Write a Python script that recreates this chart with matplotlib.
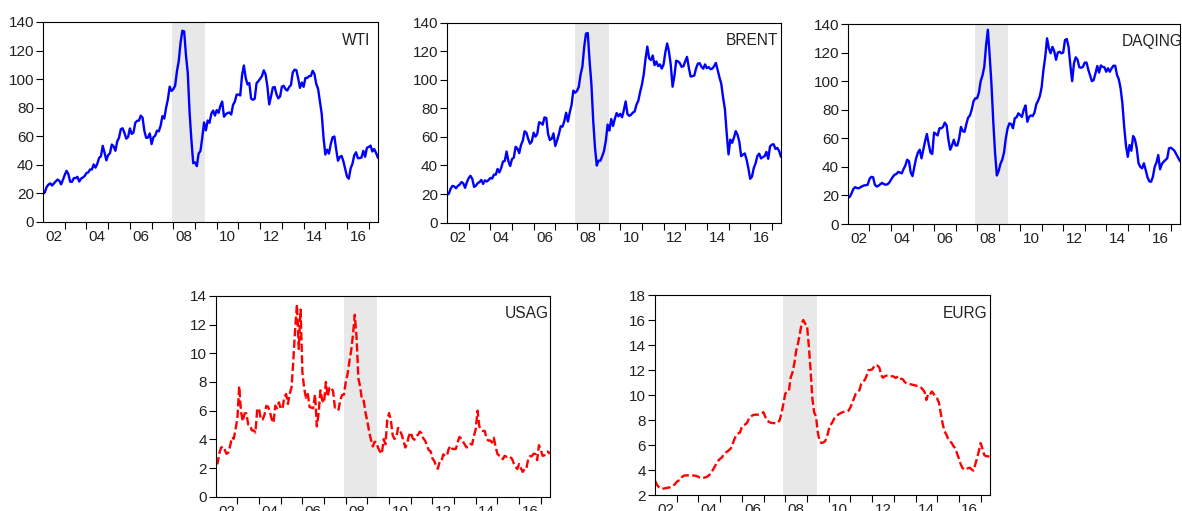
"""Five-panel price chart: crude oil (WTI, Brent, Daqing) and gas (US, Europe), 2002-2017."""

import numpy as np
import matplotlib

matplotlib.use("Agg")
import matplotlib.pyplot as plt  # noqa: E402

plt.rcParams["font.family"] = ["Liberation Sans", "DejaVu Sans"]

# monthly observations, 2002:01 .. 2017:06
start_year = 2002
n_months = 186

wti = [
    19.71, 20.72, 24.53, 26.18, 27.04, 25.52, 26.97, 28.39, 29.66, 28.84, 26.35, 29.46,
    32.95, 35.83, 33.51, 28.17, 28.11, 30.66, 30.76, 31.57, 28.31, 30.34, 31.11, 32.13,
    34.31, 34.69, 36.74, 36.75, 40.28, 38.03, 40.78, 44.90, 45.94, 53.28, 48.47, 43.15,
    46.84, 48.15, 54.19, 52.98, 49.83, 56.35, 59.00, 64.99, 65.59, 62.26, 58.32, 59.41,
    65.49, 61.63, 62.69, 69.44, 70.84, 70.95, 74.41, 73.04, 63.80, 58.89, 59.08, 61.96,
    54.51, 59.28, 60.44, 63.98, 63.45, 67.49, 74.12, 72.36, 79.92, 85.80, 94.77, 91.69,
    92.97, 95.39, 105.45, 112.58, 125.40, 133.88, 133.37, 116.67, 104.11, 76.61, 57.31, 41.12,
    41.71, 39.09, 47.94, 49.65, 59.03, 69.64, 64.15, 71.05, 69.41, 75.72, 77.99, 74.47,
    78.33, 76.39, 81.20, 84.29, 73.74, 75.34, 76.32, 76.60, 75.24, 81.89, 84.25, 89.15,
    89.17, 88.58, 102.86, 109.53, 100.90, 96.26, 97.30, 86.33, 85.52, 86.32, 97.16, 98.56,
    100.27, 102.20, 106.16, 103.32, 94.66, 82.30, 87.90, 94.13, 94.51, 89.49, 86.53, 87.86,
    94.76, 95.31, 92.94, 92.02, 94.51, 95.77, 104.67, 106.57, 106.29, 100.54, 93.86, 97.63,
    94.62, 100.82, 100.80, 102.07, 102.18, 105.79, 103.59, 96.54, 93.21, 84.40, 75.79, 59.29,
    47.22, 50.58, 47.82, 54.45, 59.27, 59.82, 50.90, 42.87, 45.48, 46.22, 42.44, 37.19,
    31.68, 30.32, 37.55, 40.75, 46.71, 48.76, 44.65, 44.72, 45.18, 49.78, 45.66, 51.97,
    52.50, 53.47, 49.33, 51.06, 48.48, 45.18,
]

brent = [
    19.42, 20.28, 23.70, 25.73, 25.35, 24.08, 25.74, 26.65, 28.40, 27.54, 24.34, 28.33,
    31.18, 32.77, 30.61, 25.00, 25.86, 27.65, 28.35, 29.89, 27.11, 29.61, 28.75, 29.81,
    31.28, 30.86, 33.63, 33.59, 37.57, 35.18, 38.22, 42.74, 43.20, 49.78, 43.11, 39.60,
    44.51, 45.48, 53.10, 51.88, 48.65, 54.35, 57.52, 63.98, 62.91, 58.54, 55.24, 56.86,
    62.99, 60.21, 62.06, 70.26, 69.78, 68.56, 73.67, 73.23, 61.96, 57.81, 58.76, 62.47,
    53.68, 57.56, 62.05, 67.49, 67.21, 71.05, 76.93, 70.76, 77.17, 82.34, 92.41, 90.93,
    92.18, 94.99, 103.64, 109.07, 122.80, 132.32, 132.72, 113.24, 97.23, 71.58, 52.45, 39.95,
    43.44, 43.32, 46.54, 50.18, 57.30, 68.61, 64.44, 72.51, 67.65, 72.77, 76.66, 74.46,
    76.17, 73.75, 78.83, 84.82, 75.95, 74.76, 75.58, 77.04, 77.84, 82.67, 85.28, 91.45,
    96.52, 103.72, 114.64, 123.26, 114.99, 113.83, 116.97, 110.22, 112.83, 109.55, 110.77, 107.87,
    110.69, 119.33, 125.45, 119.75, 110.34, 95.16, 102.62, 113.36, 112.86, 111.71, 109.06, 109.49,
    112.96, 116.05, 108.47, 102.25, 102.56, 102.92, 107.93, 111.28, 111.60, 109.08, 107.79, 110.76,
    108.12, 108.90, 107.48, 107.76, 109.54, 111.80, 106.77, 101.61, 97.09, 87.43, 79.44, 62.34,
    47.76, 58.10, 55.89, 59.52, 64.08, 61.48, 56.56, 46.52, 47.62, 48.43, 44.27, 38.01,
    30.70, 32.18, 38.21, 41.58, 46.74, 48.25, 44.95, 45.84, 46.57, 49.52, 44.73, 53.31,
    54.58, 54.87, 51.59, 52.31, 50.33, 46.37,
]

daqing = [
    18.4, 19.0, 21.5, 24.5, 25.8, 25.2, 25.0, 25.8, 26.5, 27.0, 27.2, 27.5,
    31.5, 33.0, 32.8, 27.5, 26.2, 26.8, 27.8, 28.8, 28.0, 27.5, 27.8, 29.0,
    31.0, 33.0, 34.5, 35.0, 36.5, 36.0, 35.5, 38.5, 41.0, 45.0, 44.0, 36.0,
    33.5, 40.0, 46.0, 50.0, 52.0, 46.0, 52.0, 58.0, 63.0, 56.0, 50.0, 49.0,
    64.0, 63.0, 62.0, 67.0, 67.0, 68.0, 71.0, 69.0, 59.0, 52.0, 55.0, 59.0,
    55.0, 55.0, 60.0, 68.0, 65.0, 64.5, 70.0, 74.5, 76.0, 80.0, 86.0, 88.0,
    88.0, 92.0, 100.0, 104.0, 110.0, 125.0, 136.0, 118.0, 98.0, 72.0, 50.0, 34.0,
    37.0, 42.0, 45.0, 50.0, 60.0, 67.0, 70.5, 70.0, 67.0, 74.0, 74.7, 77.5,
    76.3, 75.0, 80.0, 83.0, 71.6, 75.0, 76.0, 75.6, 78.0, 83.8, 86.3, 89.6,
    96.0, 108.0, 117.0, 130.0, 123.0, 119.5, 124.0, 121.0, 115.0, 120.0, 120.6, 119.5,
    120.0, 128.8, 129.5, 124.0, 111.0, 100.0, 112.5, 116.7, 115.0, 109.7, 109.4, 110.0,
    113.0, 113.0, 108.0, 104.0, 100.0, 100.8, 105.5, 110.6, 106.0, 111.0, 110.0, 109.7,
    106.6, 109.0, 106.6, 109.0, 110.8, 110.8, 104.3, 101.3, 95.0, 84.5, 68.0, 55.0,
    47.0, 55.3, 51.3, 61.6, 59.3, 53.0, 42.5, 40.0, 39.0, 42.5, 37.8, 32.7,
    29.9, 29.6, 33.0, 40.0, 43.0, 48.3, 38.3, 42.0, 43.6, 44.8, 46.0, 53.0,
    53.4, 52.5, 51.3, 49.0, 46.7, 44.3,
]

usag = [
    2.32, 2.32, 3.03, 3.43, 3.50, 3.26, 2.99, 3.09, 3.55, 4.13, 4.04, 4.74,
    5.43, 7.71, 5.93, 5.26, 5.81, 5.82, 5.03, 4.99, 4.62, 4.63, 4.47, 6.13,
    6.14, 5.37, 5.39, 5.71, 6.33, 6.27, 5.93, 5.41, 5.15, 6.35, 6.17, 6.58,
    6.15, 6.14, 6.96, 7.16, 6.47, 7.18, 7.63, 9.53, 11.75, 13.42, 10.30, 13.05,
    8.69, 7.54, 6.89, 7.16, 6.25, 6.21, 6.17, 7.14, 4.90, 5.85, 7.41, 6.73,
    6.55, 8.00, 6.97, 7.60, 7.64, 7.35, 6.22, 6.24, 6.07, 6.74, 7.10, 7.11,
    7.99, 8.54, 9.41, 10.18, 11.27, 12.69, 11.09, 8.26, 7.67, 6.74, 6.68, 5.82,
    5.24, 4.52, 3.96, 3.50, 3.83, 3.80, 3.38, 3.14, 2.99, 4.01, 3.66, 5.35,
    5.83, 5.32, 4.29, 4.03, 4.14, 4.80, 4.63, 4.32, 3.89, 3.43, 3.71, 4.25,
    4.49, 4.09, 3.97, 4.24, 4.31, 4.54, 4.42, 4.06, 3.90, 3.57, 3.24, 3.17,
    2.67, 2.50, 2.17, 1.95, 2.43, 2.46, 2.95, 2.84, 2.85, 3.32, 3.54, 3.34,
    3.33, 3.33, 3.81, 4.17, 4.04, 3.83, 3.62, 3.43, 3.62, 3.68, 3.64, 4.24,
    4.71, 6.00, 4.90, 4.66, 4.58, 4.59, 4.05, 3.91, 3.92, 3.78, 4.12, 3.48,
    2.99, 2.87, 2.83, 2.61, 2.85, 2.78, 2.84, 2.77, 2.66, 2.34, 2.09, 1.93,
    2.28, 1.99, 1.73, 1.92, 1.92, 2.59, 2.82, 2.82, 2.99, 2.98, 2.55, 3.59,
    3.30, 2.85, 2.88, 3.10, 3.15, 2.98,
]

eurg = [
    3.15, 2.85, 2.65, 2.55, 2.50, 2.52, 2.55, 2.58, 2.60, 2.68, 2.78, 2.85,
    3.05, 3.15, 3.20, 3.45, 3.55, 3.57, 3.57, 3.58, 3.57, 3.56, 3.55, 3.52,
    3.45, 3.37, 3.36, 3.38, 3.42, 3.48, 3.60, 3.75, 4.00, 4.25, 4.55, 4.75,
    4.90, 5.00, 5.25, 5.38, 5.48, 5.60, 5.75, 6.10, 6.50, 6.80, 6.92, 7.00,
    7.45, 7.60, 7.65, 7.80, 8.15, 8.28, 8.38, 8.42, 8.43, 8.43, 8.45, 8.55,
    8.62, 8.25, 7.95, 7.85, 7.78, 7.76, 7.75, 7.73, 7.80, 8.00, 8.60, 9.30,
    10.10, 10.24, 10.30, 11.40, 11.80, 12.50, 13.50, 14.10, 14.80, 15.70, 16.00, 15.70,
    15.60, 14.00, 12.00, 9.70, 8.60, 8.30, 7.00, 6.30, 6.16, 6.20, 6.30, 6.60,
    7.20, 7.60, 7.80, 8.10, 8.28, 8.40, 8.50, 8.58, 8.64, 8.65, 8.68, 8.75,
    9.00, 9.35, 9.75, 10.10, 10.25, 10.38, 10.90, 11.10, 11.20, 11.55, 12.00, 12.00,
    12.05, 12.25, 12.42, 12.35, 12.20, 11.60, 11.38, 11.50, 11.55, 11.57, 11.52, 11.50,
    11.48, 11.36, 11.45, 11.50, 11.30, 11.25, 11.05, 10.92, 10.88, 10.87, 10.83, 10.80,
    10.76, 10.72, 10.70, 10.60, 10.45, 10.25, 9.60, 10.10, 10.03, 10.28, 10.10, 9.85,
    9.70, 9.36, 8.50, 7.70, 7.10, 6.85, 6.50, 6.30, 6.16, 5.90, 5.75, 5.30,
    4.90, 4.45, 4.15, 4.05, 4.03, 4.15, 4.18, 4.05, 3.95, 4.43, 4.96, 5.50,
    6.16, 5.70, 5.20, 5.10, 5.10, 5.05,
]

# NBER recession, 2007:12 .. 2009:06
recession = (2007 + 11 / 12, 2009 + 5.5 / 12)
label_years = [2002, 2004, 2006, 2008, 2010, 2012, 2014, 2016]

t = start_year + np.arange(n_months) / 12.0

panels = [
    # name, values, ylim, ystep, colour, dashed, rect, label x, label y, label ha
    ("WTI", wti, (0, 140), 20, "#0000ff", False, [0.0364, 0.5656, 0.2834, 0.3914], 0.976, 0.947, "right"),
    ("BRENT", brent, (0, 140), 20, "#0000ff", False, [0.3782, 0.5643, 0.2826, 0.3914], 0.990, 0.947, "right"),
    ("DAQING", daqing, (0, 140), 20, "#0000ff", False, [0.7174, 0.5616, 0.2809, 0.3914], 0.826, 0.952, "left"),
    ("USAG", usag, (0, 14), 2, "#ff0000", True, [0.1825, 0.0280, 0.2828, 0.3928], 0.995, 0.952, "right"),
    ("EURG", eurg, (2, 18), 2, "#ff0000", True, [0.5541, 0.0313, 0.2834, 0.3914], 0.992, 0.947, "right"),
]

fig = plt.figure(figsize=(11.82, 5.11), dpi=100)

for name, vals, ylim, ystep, colour, dashed, rect, lx, ly, lha in panels:
    ax = fig.add_axes(rect)
    ax.axvspan(*recession, color="#e8e8e8", lw=0, zorder=0)
    if dashed:
        ax.plot(t, vals, color=colour, lw=1.7, ls=(0, (3.5, 1.4)), zorder=2)
    else:
        ax.plot(t, vals, color=colour, lw=1.7, zorder=2)

    ax.set_xlim(t[0], t[-1] + 0.01)
    ax.set_ylim(*ylim)
    ax.set_yticks(np.arange(ylim[0], ylim[1] + 0.1, ystep))

    # year ticks at year starts, labels centred on even years
    ax.set_xticks(np.arange(start_year + 1, 2018))
    ax.set_xticklabels([])
    ax.set_xticks([y + 0.5 for y in label_years], minor=True)
    ax.set_xticklabels([f"{y % 100:02d}" for y in label_years], minor=True)
    ax.tick_params(axis="x", which="major", length=5, width=0.8, direction="out")
    ax.tick_params(axis="x", which="minor", length=0, pad=6, labelsize=11, colors="#222222")
    ax.tick_params(axis="y", length=5, width=0.8, direction="out", pad=1.5,
                   labelsize=11, colors="#222222")
    ax.tick_params(axis="both", which="both", color="black")

    for sp in ax.spines.values():
        sp.set_linewidth(0.8)
        sp.set_color("black")

    ax.text(lx, ly, name, transform=ax.transAxes, ha=lha, va="top",
            fontsize=11.2, color="#222222", clip_on=False)

fig.savefig("out.png", dpi=100)
plt.close(fig)
